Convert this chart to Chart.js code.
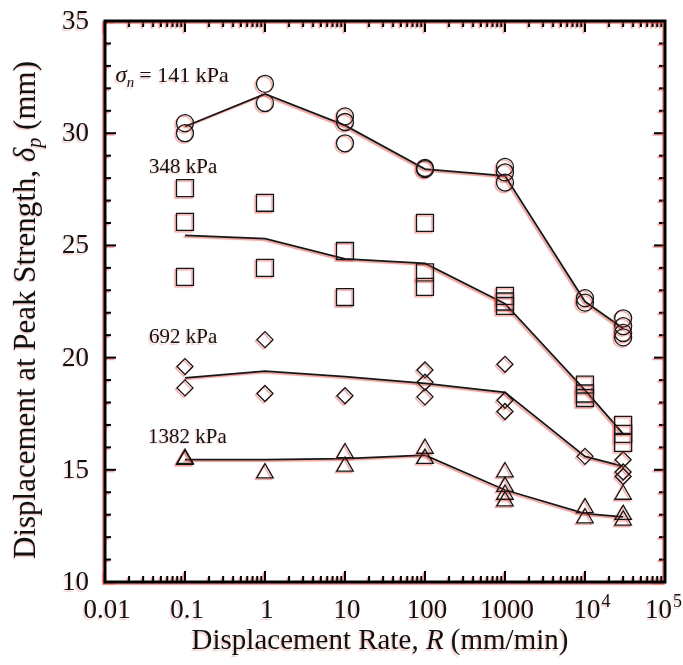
<!DOCTYPE html>
<html>
<head>
<meta charset="utf-8">
<script src="https://cdn.jsdelivr.net/npm/chart.js@4.4.1/dist/chart.umd.min.js"></script>
<style>
    html, body { margin: 0; padding: 0; background: #fff; }
    #wrap { width: 683px; height: 665px; }
</style>
</head>
<body>
<div id="wrap"><canvas id="chart" width="683" height="665"></canvas></div>
<script>
// displacement rates tested (mm/min)
const rates = [0.1, 1, 10, 100, 1000, 10000, 30000];

// displacement at peak strength (mm), one list of repeat tests per rate
const pts141 = [[30.45, 30.0], [32.2, 31.35], [30.75, 30.5, 29.55], [28.45, 28.4], [28.5, 28.25, 27.8], [22.65, 22.45], [21.75, 21.4, 21.1, 20.9]];
const pts348 = [[27.55, 26.05, 23.6], [26.9, 24.0], [24.75, 22.7], [26.0, 23.8, 23.15], [22.75, 22.5, 22.3], [18.8, 18.4, 18.2], [17.0, 16.6, 16.2]];
const pts692 = [[19.6, 18.65], [20.8, 18.4], [18.3], [19.45, 18.9, 18.25], [19.7, 18.1, 17.6], [15.6], [15.45, 14.9, 14.7]];
const pts1382 = [[15.5, 15.45], [14.85], [15.75, 15.15], [15.95, 15.5], [14.9, 14.25, 13.9, 13.6], [13.3, 12.85], [13.9, 13.0, 12.75]];

// average trend lines
const mean141 = [30.3, 31.75, 30.35, 28.4, 28.1, 22.5, 21.3];
const mean348 = [25.45, 25.3, 24.4, 24.2, 22.4, 18.55, 16.6];
const mean692 = [19.1, 19.4, 19.15, 18.85, 18.45, 15.6, 15.15];
const mean1382 = [15.45, 15.45, 15.5, 15.65, 14.1, 13.05, 12.9];

// axis ticks
const xTicks = [0.01, 0.1, 1, 10, 100, 1000, 10000, 100000];
const xTickText = ["0.01", "0.1", "1", "10", "100", "1000", "10", "10"];
const xTickSup = ["", "", "", "", "", "", "4", "5"];
const yTicks = [10, 15, 20, 25, 30, 35];

// normal stress labels, placed in data units (left edge, baseline)
const labelText = ["= 141 kPa", "348 kPa", "692 kPa", "1382 kPa"];
const labelX = [0.0135, 0.0355, 0.0355, 0.0345];
const labelY = [32.28, 28.23, 20.65, 16.2];

const serif = "'Liberation Serif', 'Times New Roman', serif";
const ink = "#161616";

function scatterData(pts) {
    const out = [];
    pts.forEach((list, i) => list.forEach(v => out.push({ x: rates[i], y: v })));
    return out;
}

function lineData(vals) {
    return vals.map((v, i) => ({ x: rates[i], y: v }));
}

const markers = [
    { pts: pts141, style: "circle", r: 8.5 },
    { pts: pts348, style: "rect", r: 12 },
    { pts: pts692, style: "rectRot", r: 8 },
    { pts: pts1382, style: "triangle", r: 9.5 },
];

const datasets = [];
[mean141, mean348, mean692, mean1382].forEach(m => {
    datasets.push({
        type: "line",
        data: lineData(m),
        borderColor: ink,
        borderWidth: 1.8,
        pointRadius: 0,
        tension: 0,
        fill: false,
        order: 2,
    });
});
markers.forEach(s => {
    datasets.push({
        type: "scatter",
        data: scatterData(s.pts),
        pointStyle: s.style,
        pointRadius: s.r,
        borderColor: ink,
        backgroundColor: "rgba(0,0,0,0)",
        borderWidth: 1.3,
        clip: false,
        order: 1,
    });
});

function seg(ctx, x1, y1, x2, y2) {
    ctx.beginPath();
    ctx.moveTo(x1, y1);
    ctx.lineTo(x2, y2);
    ctx.stroke();
}

// faint red fringe like the scanned print
function fringe(ctx) {
    ctx.shadowColor = "rgba(225, 70, 60, 0.55)";
    ctx.shadowOffsetX = -1.5;
    ctx.shadowOffsetY = 1.5;
    ctx.shadowBlur = 1;
}

const decorations = {
    id: "decorations",
    beforeDatasetsDraw(chart) {
        chart.ctx.save();
        fringe(chart.ctx);
    },
    afterDatasetsDraw(chart) {
        chart.ctx.restore();
    },
    afterDraw(chart) {
        const { ctx, chartArea: a } = chart;
        const x = chart.scales.x;
        const y = chart.scales.y;
        ctx.save();
        fringe(ctx);
        ctx.strokeStyle = "#000";
        ctx.fillStyle = "#111";

        // inward ticks on all four sides
        ctx.lineWidth = 2;
        for (let d = -2; d < 5; d++) {
            for (let m = 1; m < 10; m++) {
                const px = x.getPixelForValue(m * Math.pow(10, d));
                const len = m === 1 ? 11 : 6;
                seg(ctx, px, a.bottom, px, a.bottom - len);
                seg(ctx, px, a.top, px, a.top + len);
            }
        }
        for (let v = 10; v <= 35; v++) {
            const py = y.getPixelForValue(v);
            const len = v % 5 === 0 ? 11 : 6;
            seg(ctx, a.left, py, a.left + len, py);
            seg(ctx, a.right, py, a.right - len, py);
        }

        // frame
        ctx.lineWidth = 3;
        ctx.strokeRect(a.left, a.top, a.right - a.left, a.bottom - a.top);

        ctx.shadowColor = "rgba(225, 90, 80, 0.3)";

        // y tick labels
        ctx.font = "27px " + serif;
        ctx.textAlign = "right";
        ctx.textBaseline = "middle";
        yTicks.forEach(v => ctx.fillText(String(v), a.left - 16, y.getPixelForValue(v) + 1));

        // x tick labels
        ctx.textBaseline = "alphabetic";
        ctx.textAlign = "left";
        xTicks.forEach((v, i) => {
            const px = x.getPixelForValue(v);
            ctx.font = "27px " + serif;
            const w = ctx.measureText(xTickText[i]).width;
            let sw = 0;
            if (xTickSup[i]) {
                ctx.font = "18px " + serif;
                sw = ctx.measureText(xTickSup[i]).width + 1;
            }
            let left = px - w / 2 + 2;
            if (left + w + sw > 682) left = 682 - w - sw;
            ctx.font = "27px " + serif;
            ctx.fillText(xTickText[i], left, a.bottom + 36);
            if (xTickSup[i]) {
                ctx.font = "18px " + serif;
                ctx.fillText(xTickSup[i], left + w + 1, a.bottom + 25);
            }
        });

        // x axis title
        ctx.font = "29px " + serif;
        const t1 = "Displacement Rate, ";
        const t3 = " (mm/min)";
        const w1 = ctx.measureText(t1).width;
        const w3 = ctx.measureText(t3).width;
        ctx.font = "italic 29px " + serif;
        const w2 = ctx.measureText("R").width;
        const sx = (a.left + a.right) / 2 - 5 - (w1 + w2 + w3) / 2;
        const by = 649;
        ctx.font = "29px " + serif;
        ctx.fillText(t1, sx, by);
        ctx.font = "italic 29px " + serif;
        ctx.fillText("R", sx + w1, by);
        ctx.font = "29px " + serif;
        ctx.fillText(t3, sx + w1 + w2, by);

        // y axis title
        ctx.save();
        ctx.translate(35, 310);
        ctx.rotate(-Math.PI / 2);
        const y1 = "Displacement at Peak Strength, ";
        const y3 = " (mm)";
        ctx.font = "31px " + serif;
        const u1 = ctx.measureText(y1).width;
        const u3 = ctx.measureText(y3).width;
        ctx.font = "italic 31px " + serif;
        const u2 = ctx.measureText("\u03b4").width;
        ctx.font = "italic 20px " + serif;
        const u4 = ctx.measureText("p").width;
        const ty = -(u1 + u2 + u4 + u3) / 2;
        ctx.font = "31px " + serif;
        ctx.fillText(y1, ty, 0);
        ctx.font = "italic 31px " + serif;
        ctx.fillText("\u03b4", ty + u1, 0);
        ctx.font = "italic 20px " + serif;
        ctx.fillText("p", ty + u1 + u2, 6);
        ctx.font = "31px " + serif;
        ctx.fillText(y3, ty + u1 + u2 + u4, 0);
        ctx.restore();

        // normal stress labels
        labelText.forEach((t, i) => {
            let lx = x.getPixelForValue(labelX[i]);
            const ly = y.getPixelForValue(labelY[i]);
            if (i === 0) {
                ctx.font = "italic 23px " + serif;
                ctx.fillText("\u03c3", lx, ly);
                lx += ctx.measureText("\u03c3").width;
                ctx.font = "italic 15px " + serif;
                ctx.fillText("n", lx, ly + 5);
                lx += ctx.measureText("n").width + 5;
                ctx.font = "22px " + serif;
            } else {
                ctx.font = "21px " + serif;
            }
            ctx.fillText(t, lx, ly);
        });

        ctx.restore();
    },
};

new Chart(document.getElementById("chart"), {
    type: "scatter",
    data: { datasets },
    options: {
        responsive: false,
        animation: false,
        devicePixelRatio: 1,
        layout: { padding: { left: 105, right: 18, top: 21, bottom: 83 } },
        plugins: { legend: { display: false }, tooltip: { enabled: false } },
        scales: {
            x: { type: "logarithmic", min: 0.01, max: 100000, display: false },
            y: { type: "linear", min: 10, max: 35, display: false },
        },
    },
    plugins: [decorations],
});
</script>
</body>
</html>
